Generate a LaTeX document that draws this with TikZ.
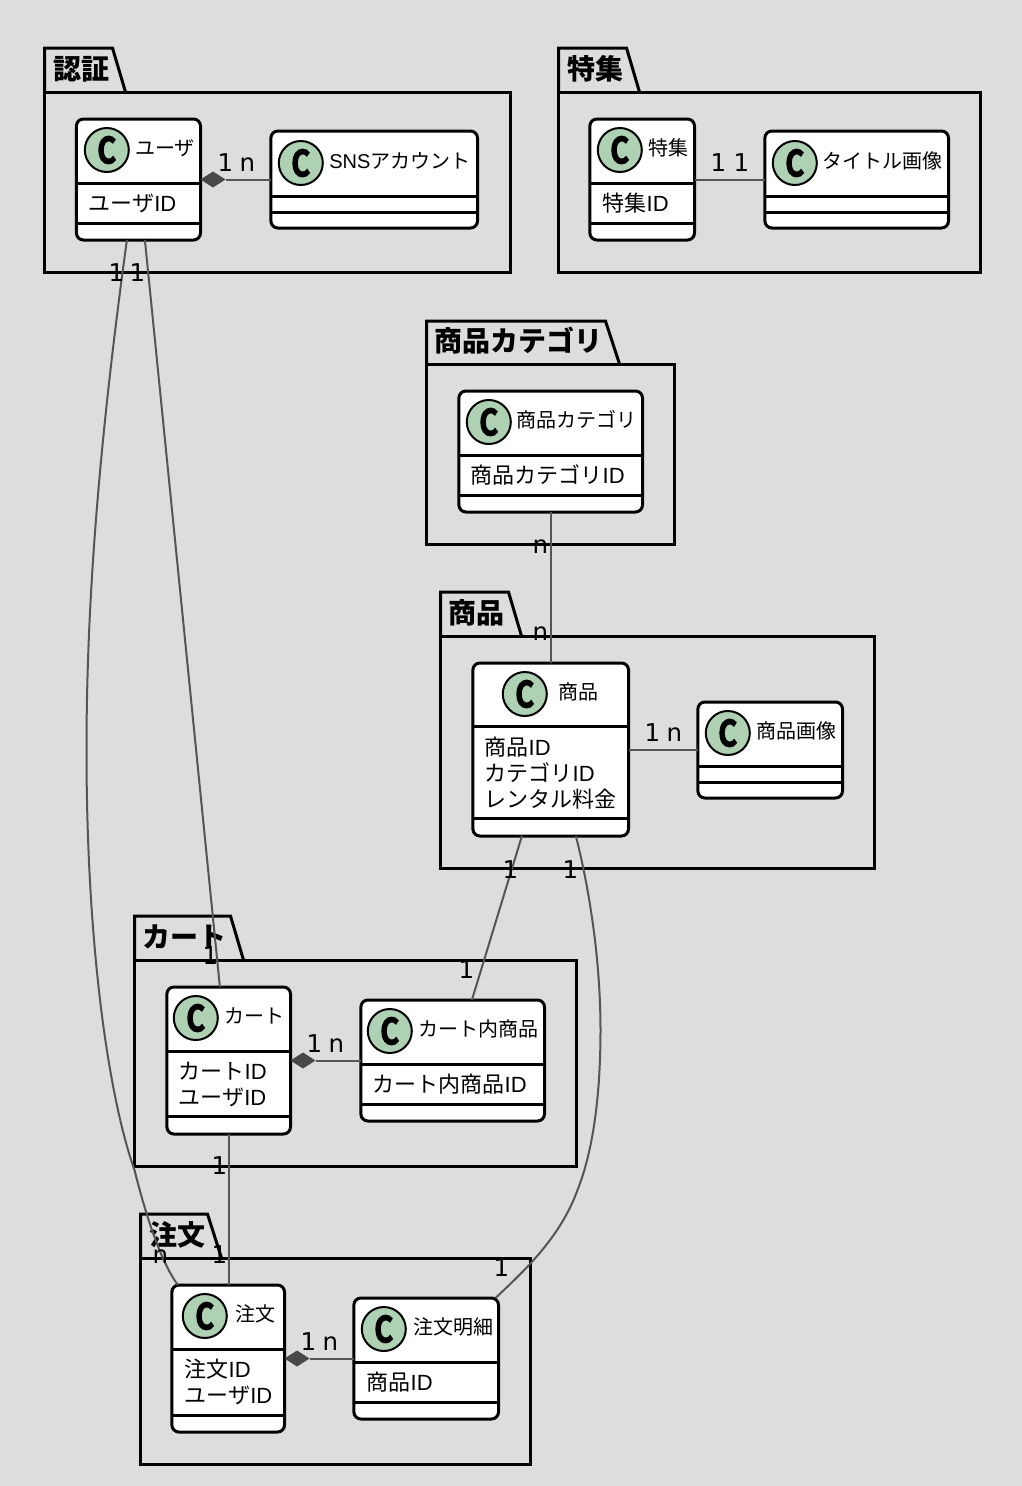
\documentclass[tikz,border=0pt]{standalone}
\usepackage{fontspec}
\usetikzlibrary{shapes.geometric,calc}
\setmainfont{DejaVu Sans}
\newfontfamily\jpfont{Noto Sans CJK JP}
\newfontfamily\latfont{Liberation Sans}
\newfontfamily\spotfont[BoldFont={Noto Sans CJK JP Bold},BoldFeatures={FakeBold=3.5}]{Noto Sans CJK JP}
\newcommand{\J}[1]{{\jpfont #1}}
\newcommand{\Lt}[1]{{\latfont #1}}
\definecolor{pagebg}{HTML}{DDDDDD}
\definecolor{spot}{HTML}{ADD1B2}
\definecolor{linkc}{HTML}{555555}
\definecolor{dia}{HTML}{484848}
\tikzset{
  pkgline/.style={draw=black,line width=3pt,line join=miter},
  classbox/.style={draw=black,fill=white,line width=3pt,rounded corners=7pt,rectangle,inner sep=0pt,outer sep=0pt,anchor=north west},
  sepline/.style={draw=black,line width=3pt},
  spotc/.style={circle,draw=black,fill=spot,line width=2pt,minimum size=44pt,inner sep=0pt,xshift=0.3pt,font=\spotfont\bfseries\fontsize{36}{36}\selectfont},
  ctitle/.style={anchor=base west,inner sep=0pt,xshift=0.6pt,font=\fontsize{20}{20}\selectfont},
  cattr/.style={anchor=base west,inner sep=0pt,font=\fontsize{22}{22}\selectfont},
  pkgtitle/.style={anchor=base west,inner sep=0pt,xshift=0.6pt,font=\jpfont\bfseries\fontsize{28}{28}\selectfont},
  mult/.style={anchor=base,inner sep=0pt,xshift=0.8pt,font=\fontsize{24.5}{24.5}\selectfont},
  link/.style={draw=linkc,line width=2pt},
  dtip/.style={diamond,fill=dia,draw=none,aspect=1.55,inner sep=0pt,outer sep=0pt,minimum width=25pt,minimum height=16pt}
}
% id x1 y1 x2 y2 sep1 sep2 cx cy
\newcommand{\classnode}[9]{%
  \pgfmathsetlengthmacro{\wid}{#4-#2-0.4}\pgfmathsetlengthmacro{\hei}{#5-#3}%
  \node[classbox,minimum width=\wid,minimum height=\hei] (#1) at (#2+0.4,#3) {};
  \draw[sepline] (#2+0.4,#6) -- (#4,#6);
  \draw[sepline] (#2+0.4,#7) -- (#4,#7);
  \node[spotc] (#1-spot) at (#8,#9) {\scalebox{0.8}[1]{C}};
}
\begin{document}
\begin{tikzpicture}[x=1pt,y=-1pt]
\useasboundingbox (0,0) rectangle (1022,1486);
\fill[pagebg] (0,0) rectangle (1022,1486);
\begin{scope}[xshift=-0.5pt]
% packages
\draw[pkgline] (45,92) -- (45,48) -- (113,48) -- (126,92);
\draw[pkgline] (45,92) rectangle (511,272);
\node[pkgtitle] (p1) at (53,79) {認証};
\draw[pkgline] (559,92) -- (559,48) -- (627,48) -- (640,92);
\draw[pkgline] (559,92) rectangle (981,272);
\node[pkgtitle] (p2) at (567,79) {特集};
\draw[pkgline] (427,364) -- (427,321) -- (606,321) -- (620,364);
\draw[pkgline] (427,364) rectangle (675,544);
\node[pkgtitle] (p3) at (434,351) {商品カテゴリ};
\draw[pkgline] (441,636) -- (441,592) -- (509,592) -- (522,636);
\draw[pkgline] (441,636) rectangle (875,868);
\node[pkgtitle] (p4) at (448,623) {商品};
\draw[pkgline] (135,960) -- (135,916) -- (231,916) -- (244,960);
\draw[pkgline] (135,960) rectangle (577,1166);
\node[pkgtitle] (p5) at (142,947) {カート};
\draw[pkgline] (141,1258) -- (141,1214) -- (208,1214) -- (222,1258);
\draw[pkgline] (141,1258) rectangle (531,1464);
\node[pkgtitle] (p6) at (149,1245) {注文};
% classes
\classnode{user}{76.5}{119}{201}{240}{183}{223}{107}{150}
\node[ctitle] (userT) at (135,155) {\J{ユーザ}};
\node[cattr] (userA) at (89,211) {\J{ユーザ}\Lt{ID}};
\classnode{sns}{271}{131}{478}{228}{196}{212}{301}{163}
\node[ctitle] (snsT) at (329,168) {\Lt{SNS}\J{アカウント}};
\classnode{fea}{590}{119}{695}{240}{183}{223}{620}{150}
\node[ctitle] (feaT) at (648,155) {\J{特集}};
\node[cattr] (feaA) at (603,211) {\J{特集}\Lt{ID}};
\classnode{tit}{765}{131}{949}{228}{196}{212}{795}{163}
\node[ctitle] (titT) at (822,168) {\J{タイトル画像}};
\classnode{cat}{459}{391}{643}{512}{455}{495}{489}{422}
\node[ctitle] (catT) at (516,427) {\J{商品カテゴリ}};
\node[cattr] (catA) at (471,483) {\J{商品カテゴリ}\Lt{ID}};
\classnode{prod}{473}{663}{629}{836}{726}{818}{525}{694}
\node[ctitle] (prodT) at (558,699) {\J{商品}};
\node[cattr] (prodA1) at (485,755) {\J{商品}\Lt{ID}};
\node[cattr] (prodA2) at (485,781) {\J{カテゴリ}\Lt{ID}};
\node[cattr] (prodA3) at (485,807) {\J{レンタル料金}};
\classnode{img}{698}{702}{843}{798}{766}{782}{728}{733}
\node[ctitle] (imgT) at (756,738) {\J{商品画像}};
\classnode{cart}{167}{987}{291}{1134}{1051}{1116}{196}{1018}
\node[ctitle] (cartT) at (224,1023) {\J{カート}};
\node[cattr] (cartA1) at (179,1079) {\J{カート}\Lt{ID}};
\node[cattr] (cartA2) at (179,1105) {\J{ユーザ}\Lt{ID}};
\classnode{item}{361}{1000}{545}{1121}{1064}{1104}{390}{1031}
\node[ctitle] (itemT) at (418,1036) {\J{カート内商品}};
\node[cattr] (itemA) at (373,1092) {\J{カート内商品}\Lt{ID}};
\classnode{ord}{172}{1285}{285}{1432}{1349}{1415}{205}{1316}
\node[ctitle] (ordT) at (235,1321) {\J{注文}};
\node[cattr] (ordA1) at (185,1377) {\J{注文}\Lt{ID}};
\node[cattr] (ordA2) at (185,1403) {\J{ユーザ}\Lt{ID}};
\classnode{det}{354}{1298}{499}{1419}{1362}{1402}{384}{1329}
\node[ctitle] (detT) at (413,1334) {\J{注文明細}};
\node[cattr] (detA) at (367,1390) {\J{商品}\Lt{ID}};
% links
\node[dtip] (d1) at (213.5,179.5) {};
\draw[link] (d1.east) -- (d1.east -| sns.west);
\draw[link] ([yshift=60.5pt]fea.south east) -- ([yshift=60.5pt]fea.south east -| tit.west);
\path[link] ([xshift=50.5pt]user.south west) .. controls (100,440) and (87,600) .. (87,750)
  .. controls (87,950) and (110,1100) .. (135,1170)
  .. controls (145,1210) and (160,1260) .. ([xshift=6pt]ord.north west);
\draw[link] ([xshift=68.5pt]user.south west) -- ([xshift=53pt]cart.north west);
\draw[link] ([xshift=92pt]cat.south west) -- ([xshift=78pt]prod.north west);
\draw[link] ([yshift=-87pt]prod.north east) -- ([yshift=-87pt]prod.north east -| img.west);
\draw[link] ([xshift=49pt]prod.south west) -- ([xshift=111pt]item.north west);
\path[link] ([xshift=103pt]prod.south west) .. controls (590,890) and (601,960) .. (601,1030)
  .. controls (601,1110) and (590,1160) .. (578,1190)
  .. controls (560,1240) and (520,1275) .. ([xshift=-3pt]det.north east);
\draw[link] (cart.south) -- (cart.south |- ord.north);
\node[dtip] (d2) at (303.5,1060.5) {};
\draw[link] (d2.east) -- (d2.east -| item.west);
\node[dtip] (d3) at (297.5,1358.5) {};
\draw[link] (d3.east) -- (d3.east -| det.west);
% multiplicities
\node[mult] (m1) at (225,171) {1};
\node[mult] (m2) at (247,171) {n};
\node[mult] (m3) at (718,171) {1};
\node[mult] (m4) at (741,171) {1};
\node[mult] (m5) at (116,281) {1};
\node[mult] (m6) at (137,281) {1};
\node[mult] (m7) at (540,553) {n};
\node[mult] (m8) at (540,640) {n};
\node[mult] (m9) at (652,741) {1};
\node[mult] (m10) at (674,741) {n};
\node[mult] (m11) at (510,878) {1};
\node[mult] (m12) at (570,878) {1};
\node[mult] (m13) at (466,978) {1};
\node[mult] (m14) at (210,964) {1};
\node[mult] (m15) at (314,1052) {1};
\node[mult] (m16) at (336,1052) {n};
\node[mult] (m17) at (219,1174) {1};
\node[mult] (m18) at (219,1263) {1};
\node[mult] (m19) at (160,1263) {n};
\node[mult] (m20) at (501,1276) {1};
\node[mult] (m21) at (308,1350) {1};
\node[mult] (m22) at (330,1350) {n};
\end{scope}
\end{tikzpicture}
\end{document}
